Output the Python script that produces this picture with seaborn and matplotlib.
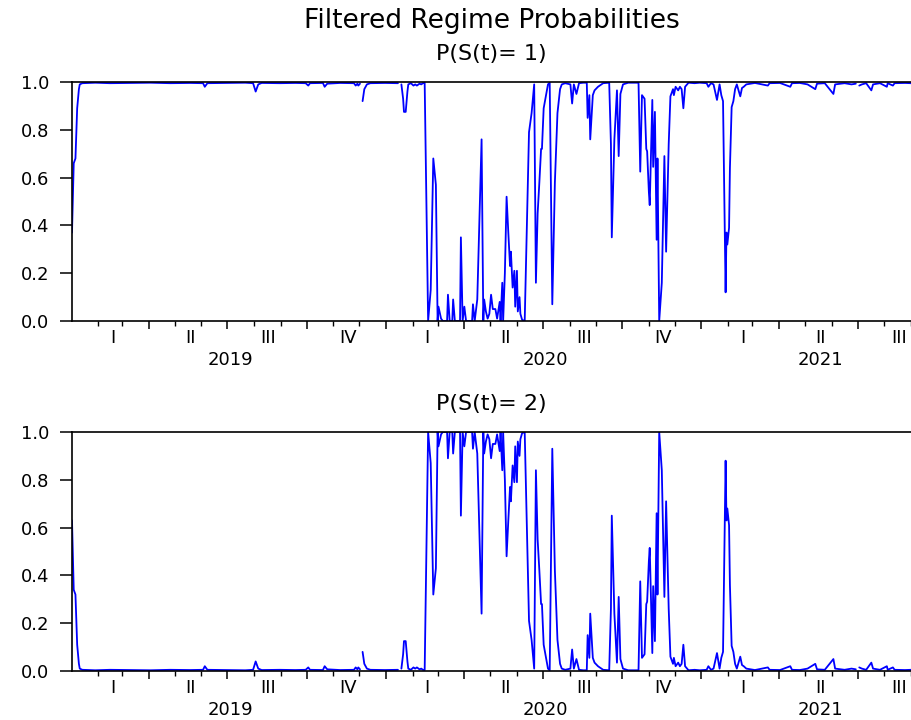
import matplotlib
matplotlib.use("Agg")
import numpy as np
import pandas as pd
import seaborn as sns
import matplotlib.pyplot as plt
import matplotlib.dates as mdates
from matplotlib.ticker import NullFormatter

# ---------------- data ----------------
START = "2019-01-01"  # observation day offsets are counted from this date
main_title = "Filtered Regime Probabilities"
panel_titles = ["P(S(t)= 1)", "P(S(t)= 2)"]
quarter_names = ["I", "II", "III", "IV"]
y_ticks = [0.0, 0.2, 0.4, 0.6, 0.8, 1.0]

obs_day = [
    1, 3, 5, 7, 9, 10, 13, 28, 45, 68, 92, 115, 138, 153, 155, 158, 179, 202, 211, 214,
    217, 221, 242, 260, 272, 275, 277, 292, 294, 297, 312, 328, 330, 332, 333, 335, 336,
    338, 340, 343, 347, 364, 379, 381,
    383, 385, 386, 388, 390, 391, 394, 397, 399, 401, 404, 406, 408, 410, 414, 417, 420,
    423, 425, 426, 429, 431, 436, 437, 439, 442, 443, 445, 451, 452, 454, 456, 458, 465,
    466, 468, 471, 476, 478, 479, 481, 483, 485, 487, 489, 492, 494, 497, 498, 500, 501,
    503, 505, 507, 509, 510, 512, 514, 515, 517, 518, 520, 521, 523, 526, 531, 534, 537,
    539, 541, 543, 545, 546, 548, 550, 553, 555, 558, 561, 564, 567, 569, 573, 579, 581,
    583, 586, 589, 594, 598, 599, 601, 602, 605, 607, 611, 617, 624, 626, 627, 630, 633,
    635, 637, 640, 646, 658, 660, 662, 665, 667, 668, 670, 671, 674, 675, 677, 679, 680,
    682, 685, 688, 690, 693, 695, 698, 699, 701, 704, 706, 708, 710, 712, 716, 723, 729,
    737, 739, 742, 745, 749, 752, 754, 756, 758, 759, 760, 761, 763, 764, 766, 768, 770,
    772, 776, 778, 780, 783, 793, 808, 810, 822, 834, 836, 845, 854, 863, 865, 874, 884,
    886, 897, 905, 910, 912,
    914, 917, 922, 928, 930, 938, 946, 947, 953, 955, 967, 974,
]

p_regime1 = [
    0.37, 0.66, 0.68, 0.89, 0.97, 0.99, 0.995, 0.997, 0.995, 0.996, 0.997, 0.995, 0.996, 0.995, 0.98, 0.995, 0.996, 0.997, 0.995, 0.96,
    0.99, 0.996, 0.995, 0.996, 0.995, 0.985, 0.995, 0.996, 0.98, 0.993, 0.996, 0.995, 0.985, 0.993, 0.985, 0.993, None,
    0.92, 0.97, 0.99, 0.995, 0.996, 0.995, None,
    0.99, 0.93, 0.875, 0.875, 0.96, 0.99, 0.995, 0.985, 0.99, 0.985, 0.993, 0.99, 0.995, 0.996, 0.0, 0.13, 0.68,
    0.57, 0.0, 0.06, 0.01, 0.0, 0.0, 0.11, 0.0, 0.0, 0.09, 0.0, 0.0, 0.35, 0.0, 0.06, 0.0, 0.0,
    0.07, 0.0, 0.09, 0.76, 0.0, 0.09, 0.04, 0.01, 0.03, 0.11, 0.05, 0.05, 0.01, 0.08, 0.0, 0.16, 0.0,
    0.2, 0.52, 0.37, 0.23, 0.29, 0.14, 0.21, 0.06, 0.21, 0.04, 0.1, 0.03, 0.005, 0.0, 0.79, 0.87, 0.99,
    0.16, 0.45, 0.58, 0.72, 0.72, 0.89, 0.93, 0.99, 0.997, 0.07, 0.58, 0.87, 0.97, 0.99, 0.995, 0.99, 0.91,
    0.99, 0.95, 0.995, 0.997, 0.997, 0.85, 0.945, 0.76, 0.945, 0.965, 0.98, 0.995, 0.997, 0.74, 0.35, 0.76, 0.965,
    0.69, 0.95, 0.99, 0.997, 0.997, 0.625, 0.945, 0.93, 0.72, 0.71, 0.54, 0.485, 0.925, 0.645, 0.875, 0.34, 0.68,
    0.0, 0.16, 0.69, 0.29, 0.74, 0.94, 0.97, 0.945, 0.98, 0.965, 0.98, 0.97, 0.89, 0.98, 0.997, 0.995, 0.997,
    0.995, 0.98, 0.995, 0.99, 0.925, 0.99, 0.945, 0.92, 0.365, 0.12, 0.37, 0.32, 0.39, 0.64, 0.895, 0.92, 0.97,
    0.99, 0.94, 0.975, 0.98, 0.99, 0.996, 0.985, 0.995, 0.996, 0.98, 0.995, 0.996, 0.99, 0.97, 0.993, 0.995, 0.95,
    0.99, 0.995, 0.99, 0.993, None,
    0.985, 0.99, 0.995, 0.965, 0.99, 0.995, 0.98, 0.995, 0.985, 0.995, 0.996, 0.995,
]

p_regime2 = [
    0.63, 0.34, 0.32, 0.11, 0.03, 0.01, 0.005, 0.003, 0.005, 0.004, 0.003, 0.005, 0.004, 0.005, 0.02, 0.005, 0.004, 0.003, 0.005, 0.04,
    0.01, 0.004, 0.005, 0.004, 0.005, 0.015, 0.005, 0.004, 0.02, 0.007, 0.004, 0.005, 0.015, 0.007, 0.015, 0.007, None,
    0.08, 0.03, 0.01, 0.005, 0.004, 0.005, None,
    0.01, 0.07, 0.125, 0.125, 0.04, 0.01, 0.005, 0.015, 0.01, 0.015, 0.007, 0.01, 0.005, 0.004, 1.0, 0.87, 0.32,
    0.43, 1.0, 0.94, 0.99, 1.0, 1.0, 0.89, 1.0, 1.0, 0.91, 1.0, 1.0, 0.65, 1.0, 0.94, 1.0, 1.0,
    0.93, 1.0, 0.91, 0.24, 1.0, 0.91, 0.96, 0.99, 0.97, 0.89, 0.95, 0.95, 0.99, 0.92, 1.0, 0.84, 1.0,
    0.8, 0.48, 0.63, 0.77, 0.71, 0.86, 0.79, 0.94, 0.79, 0.96, 0.9, 0.97, 0.995, 1.0, 0.21, 0.13, 0.01,
    0.84, 0.55, 0.42, 0.28, 0.28, 0.11, 0.07, 0.01, 0.003, 0.93, 0.42, 0.13, 0.03, 0.01, 0.005, 0.01, 0.09,
    0.01, 0.05, 0.005, 0.003, 0.003, 0.15, 0.055, 0.24, 0.055, 0.035, 0.02, 0.005, 0.003, 0.26, 0.65, 0.24, 0.035,
    0.31, 0.05, 0.01, 0.003, 0.003, 0.375, 0.055, 0.07, 0.28, 0.29, 0.46, 0.515, 0.075, 0.355, 0.125, 0.66, 0.32,
    1.0, 0.84, 0.31, 0.71, 0.26, 0.06, 0.03, 0.055, 0.02, 0.035, 0.02, 0.03, 0.11, 0.02, 0.003, 0.005, 0.003,
    0.005, 0.02, 0.005, 0.01, 0.075, 0.01, 0.055, 0.08, 0.635, 0.88, 0.63, 0.68, 0.61, 0.36, 0.105, 0.08, 0.03,
    0.01, 0.06, 0.025, 0.02, 0.01, 0.004, 0.015, 0.005, 0.004, 0.02, 0.005, 0.004, 0.01, 0.03, 0.007, 0.005, 0.05,
    0.01, 0.005, 0.01, 0.007, None,
    0.015, 0.01, 0.005, 0.035, 0.01, 0.005, 0.02, 0.005, 0.015, 0.005, 0.004, 0.005,
]

# ---------------- figure ----------------
sns.set_style("ticks")
plt.rcParams["font.family"] = ["DejaVu Sans"]
plt.rcParams["text.color"] = "black"
plt.rcParams["axes.labelcolor"] = "black"

dates = pd.Timestamp(START) + pd.to_timedelta(obs_day, unit="D")

W, H = 911, 720
fig = plt.figure(figsize=(W / 100, H / 100), dpi=100)
axes_px = [(72, 82), (72, 432)]  # (left, top) of each panel in pixels
panel_w, panel_h = 839, 239

series = [p_regime1, p_regime2]
q_starts = pd.date_range("2019-01-01", "2021-07-01", freq="QS")
q_label_pos = q_starts + pd.Timedelta(days=48)
years = sorted(set(q_label_pos.year))

for (left, top), vals, sub in zip(axes_px, series, panel_titles):
    ax = fig.add_axes([left / W, (H - top - panel_h) / H, panel_w / W, panel_h / H])
    df = pd.DataFrame({"date": dates,
                       "p": [np.nan if v is None else v for v in vals]})
    df["seg"] = df["p"].isna().cumsum()
    df = df.dropna()
    sns.lineplot(data=df, x="date", y="p", units="seg", estimator=None,
                 color="#0000FF", lw=1.3, ax=ax, legend=False)

    ax.set_xlim(dates[0], dates[-1])
    ax.set_ylim(0, 1)
    ax.set_xlabel("")
    ax.set_ylabel("")
    ax.set_yticks(y_ticks)
    ax.set_yticklabels([f"{v:.1f}" for v in y_ticks])
    ax.tick_params(axis="y", direction="out", length=9, width=1.1, pad=7.5,
                   labelsize=13, color="black", labelcolor="black")

    ax.xaxis.set_major_locator(mdates.MonthLocator(bymonth=[1, 4, 7, 10]))
    ax.xaxis.set_minor_locator(mdates.MonthLocator())
    ax.xaxis.set_major_formatter(NullFormatter())
    ax.xaxis.set_minor_formatter(NullFormatter())
    ax.tick_params(axis="x", which="major", direction="out", length=5.5, width=1.1, color="black")
    ax.tick_params(axis="x", which="minor", direction="out", length=3.3, width=1.0, color="black")

    for s in ["top", "left", "bottom"]:
        ax.spines[s].set_visible(True)
        ax.spines[s].set_color("black")
        ax.spines[s].set_linewidth(1.2)
    ax.spines["right"].set_visible(False)
    ax.grid(False)

    xt = ax.get_xaxis_transform()
    for d in q_label_pos:
        ax.annotate(quarter_names[(d.month - 1) // 3], xy=(mdates.date2num(d), 0), xycoords=xt,
                    xytext=(0, -15.8), textcoords="offset points", color="black",
                    ha="center", va="baseline", fontsize=13, annotation_clip=False)
    for y in years:
        pos = q_label_pos[q_label_pos.year == y]
        mid = pos[0] + (pos[-1] - pos[0]) / 2
        ax.annotate(str(y), xy=(mdates.date2num(mid), 0), xycoords=xt,
                    xytext=(0, -31.7), textcoords="offset points", color="black",
                    ha="center", va="baseline", fontsize=13, annotation_clip=False)

    ax.annotate(sub, xy=(0.5, 1), xycoords="axes fraction", xytext=(0, 15.5),
                textcoords="offset points", ha="center", va="baseline",
                fontsize=16, color="black")

fig.text((72 + panel_w / 2) / W, 1 - 28 / H, main_title, ha="center", va="baseline",
         fontsize=19, color="black")

fig.savefig("out.png", dpi=100)
